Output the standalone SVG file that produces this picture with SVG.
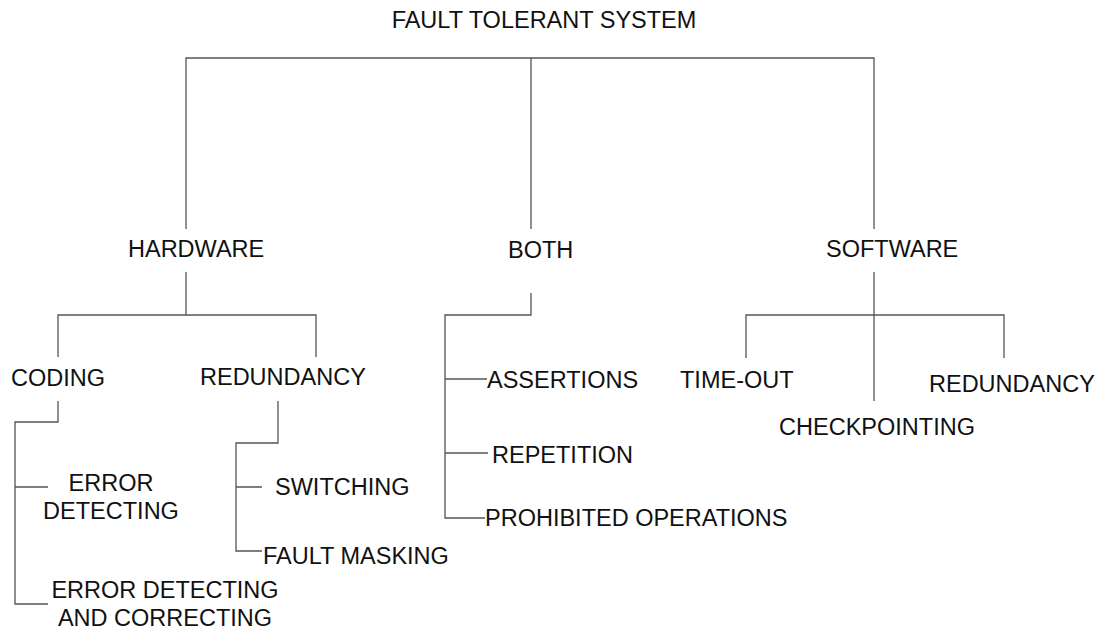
<svg xmlns="http://www.w3.org/2000/svg" width="1102" height="630" viewBox="0 0 1102 630">
  <style>
    text { font-family: "Liberation Sans", Arial, sans-serif; font-size: 23.5px; fill: #111; }
    .wire { fill: none; stroke: #555; stroke-width: 1.3; }
  </style>
  <rect width="1102" height="630" fill="#fff"/>

  <!-- tree connectors -->
  <g id="connectors">
    <!-- root to the three main branches -->
    <path class="wire" d="M186,229 V58 H874 V229 M531,58 V229"/>
    <!-- hardware split -->
    <path class="wire" d="M186,272 V315 M58,357 V315 H316 V357"/>
    <!-- coding leaves -->
    <path class="wire" d="M58,401 V422 H15 V604 H48 M15,487 H48"/>
    <!-- redundancy leaves -->
    <path class="wire" d="M278,401 V443 H236 V551 H262 M236,487 H262"/>
    <!-- both leaves -->
    <path class="wire" d="M531,293 V315 H445 V518 H485 M445,379 H487 M445,453 H488"/>
    <!-- software split -->
    <path class="wire" d="M874,272 V401 M746,358 V315 H1004 V358"/>
  </g>

  <g id="root"><text x="544" y="28" text-anchor="middle">FAULT TOLERANT SYSTEM</text></g>

  <g id="hardware"><text x="128" y="257">HARDWARE</text></g>
  <g id="both"><text x="508" y="258">BOTH</text></g>
  <g id="software"><text x="826" y="257">SOFTWARE</text></g>

  <g id="coding"><text x="11" y="386">CODING</text></g>
  <g id="hw-redundancy"><text x="200" y="385">REDUNDANCY</text></g>

  <g id="error-detecting">
    <text x="111" y="491" text-anchor="middle">ERROR</text>
    <text x="111" y="519" text-anchor="middle">DETECTING</text>
  </g>
  <g id="error-correcting">
    <text x="165" y="598" text-anchor="middle">ERROR DETECTING</text>
    <text x="165" y="626" text-anchor="middle">AND CORRECTING</text>
  </g>

  <g id="switching"><text x="275" y="495">SWITCHING</text></g>
  <g id="fault-masking"><text x="263" y="564">FAULT MASKING</text></g>

  <g id="assertions"><text x="487" y="388">ASSERTIONS</text></g>
  <g id="repetition"><text x="492" y="463">REPETITION</text></g>
  <g id="prohibited"><text x="485" y="526">PROHIBITED OPERATIONS</text></g>

  <g id="time-out"><text x="680" y="388">TIME-OUT</text></g>
  <g id="checkpointing"><text x="877" y="435" text-anchor="middle">CHECKPOINTING</text></g>
  <g id="sw-redundancy"><text x="929" y="392">REDUNDANCY</text></g>
</svg>
